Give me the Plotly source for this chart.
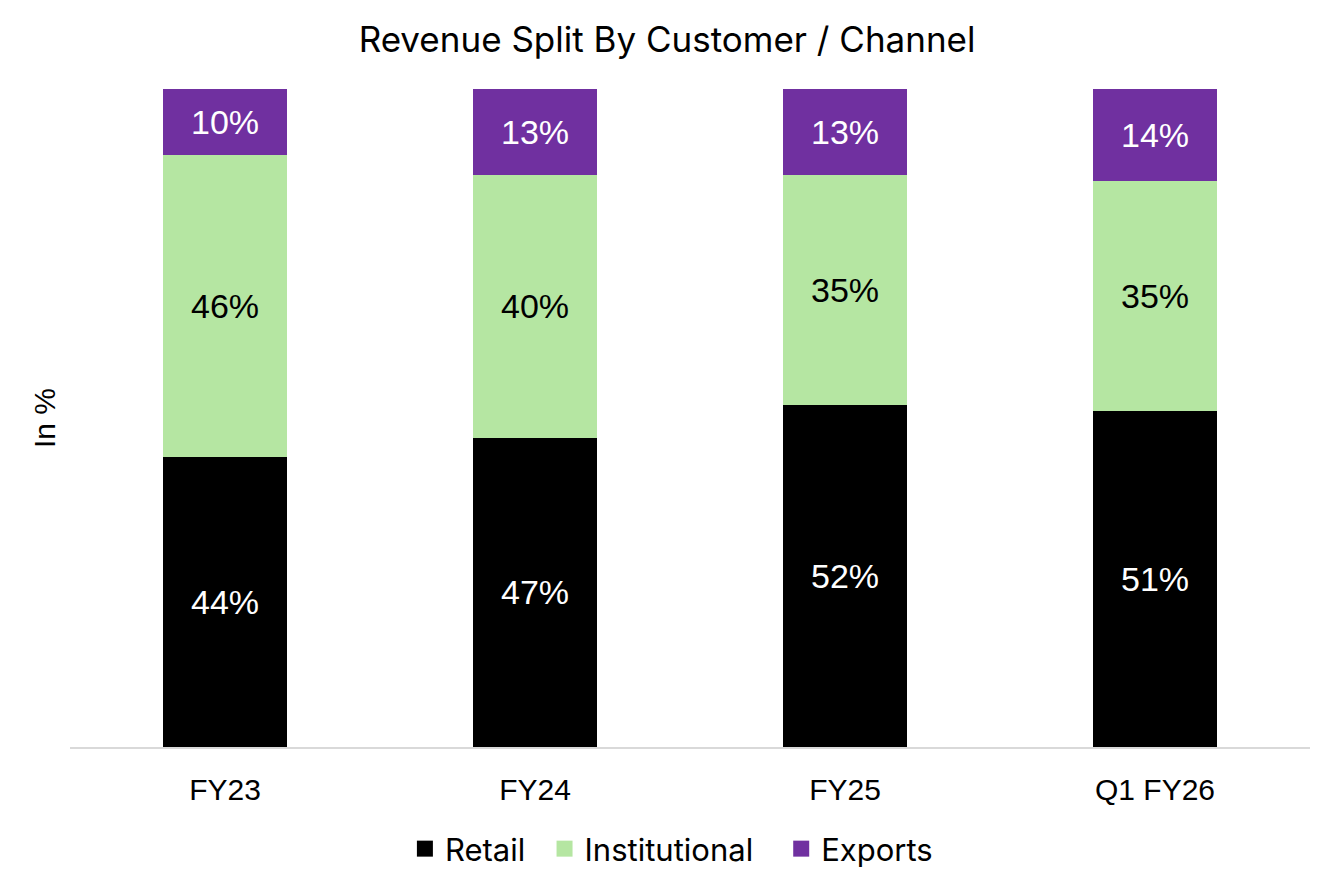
import plotly.graph_objects as go

categories = ["FY23", "FY24", "FY25", "Q1 FY26"]
retail = [44, 47, 52, 51]
institutional = [46, 40, 35, 35]
exports = [10, 13, 13, 14]

series = [
    ("Retail", retail, "#000000", "white"),
    ("Institutional", institutional, "#B5E6A2", "black"),
    ("Exports", exports, "#7030A0", "white"),
]
legend_pad = ["\u00a0\u2009", "\u00a0\u00a0\u2009", ""]

fig = go.Figure()
for name, vals, color, tcolor in series:
    fig.add_trace(go.Bar(
        x=categories, y=vals, name=name, showlegend=False,
        marker=dict(color=color, line=dict(width=0)),
        text=[f"{v}%" for v in vals],
        textposition="inside", insidetextanchor="middle",
        textfont=dict(color=tcolor, size=34, family="Liberation Sans, Arial"),
        constraintext="none",
    ))
for (name, vals, color, tcolor), pad in zip(series, legend_pad):
    fig.add_trace(go.Scatter(
        x=[None], y=[None], mode="markers", name=name + pad,
        marker=dict(symbol="square", color=color, size=17),
        showlegend=True,
    ))

fig.update_layout(
    barmode="stack",
    bargap=0.6,
    width=1334, height=889,
    margin=dict(l=62, r=32, t=81, b=150),
    paper_bgcolor="white", plot_bgcolor="white",
    title=dict(text="Revenue Split By Customer / Channel", x=0.4815, xanchor="center",
               xref="paper",
               y=1 - 32 / 889, yanchor="middle",
               font=dict(size=35, color="black", family="Inter, Open Sans")),
    uniformtext=dict(mode=False),
    legend=dict(orientation="h", x=0.485, xanchor="center", xref="paper",
                y=-0.155, yanchor="middle",
                font=dict(size=31, color="black", family="Inter, Open Sans"),
                traceorder="normal", itemsizing="trace"),
    showlegend=True,
)
fig.update_xaxes(showline=True, linecolor="#D9D9D9", linewidth=2, ticks="",
                 ticklabelstandoff=15,
                 tickfont=dict(size=30, color="black", family="Liberation Sans, Arial"),
                 showgrid=False)
fig.update_yaxes(range=[0, 100], showticklabels=False, showgrid=False, zeroline=False,
                 title=dict(text="In %", standoff=4,
                            font=dict(size=30, color="black", family="Liberation Sans, Arial")))

fig.write_html("out.html")
